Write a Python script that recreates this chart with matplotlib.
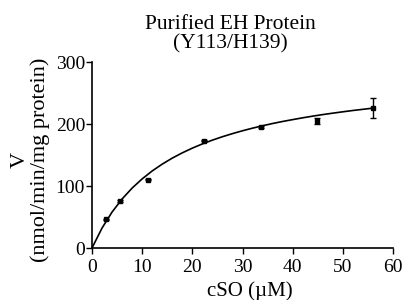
import matplotlib
matplotlib.use("Agg")
import matplotlib.pyplot as plt

# Measured data
conc = [2.7, 5.5, 11.1, 22.3, 33.6, 44.8, 56.0]
rate = [46, 76, 110, 173, 195, 205, 226]
rate_err = [1, 1, 1, 1, 1, 5, 16]

# Fitted (Michaelis-Menten) curve
curve_x = [0, 2, 4, 6, 8, 10, 12, 14, 16, 18, 20, 22, 24, 26, 28, 30,
           32, 34, 36, 38, 40, 42, 44, 46, 48, 50, 52, 54, 56]
curve_y = [0, 32.2, 58.0, 79.1, 96.7, 111.5, 124.3, 135.3, 145.0, 153.5,
           161.1, 167.9, 174.0, 179.5, 184.5, 189.1, 193.3, 197.2, 200.8,
           204.1, 207.1, 210.0, 212.7, 215.2, 217.5, 219.7, 221.8, 223.7, 225.6]

x_ticks = [0, 10, 20, 30, 40, 50, 60]
y_ticks = [0, 100, 200, 300]

plt.rcParams['font.family'] = ['Liberation Serif', 'DejaVu Serif']

fig = plt.figure(figsize=(4.06, 3.0), dpi=100)
ax = fig.add_axes([0.2266, 0.1733, 0.7414, 0.62])

ax.plot(curve_x, curve_y, color='black', lw=1.2)
ax.errorbar(conc, rate, yerr=rate_err, fmt='s', color='black', ms=2.5,
            elinewidth=1, capsize=2.5, capthick=1)

ax.set_xlim(0, 60)
ax.set_ylim(0, 300)
ax.set_xticks(x_ticks)
ax.set_yticks(y_ticks)
for s in ['top', 'right']:
    ax.spines[s].set_visible(False)
for s in ['left', 'bottom']:
    ax.spines[s].set_linewidth(1.2)
ax.tick_params(direction='out', length=4, width=1, labelsize=14)
ax.tick_params(axis='y', pad=1)
ax.tick_params(axis='x', pad=4)

fig.text(0.616, 0.013, 'cSO (\u00b5M)', fontsize=15, ha='center', va='baseline')
fig.text(0.074, 0.467, 'V\n(nmol/min/mg protein)', fontsize=16, rotation=90,
         ha='center', va='center', multialignment='center', linespacing=1.05)
fig.text(0.567, 0.95, 'Purified EH Protein\n(Y113/H139)', fontsize=15.5,
         ha='center', va='top', linespacing=1.05)

fig.savefig('out.png', dpi=100)
